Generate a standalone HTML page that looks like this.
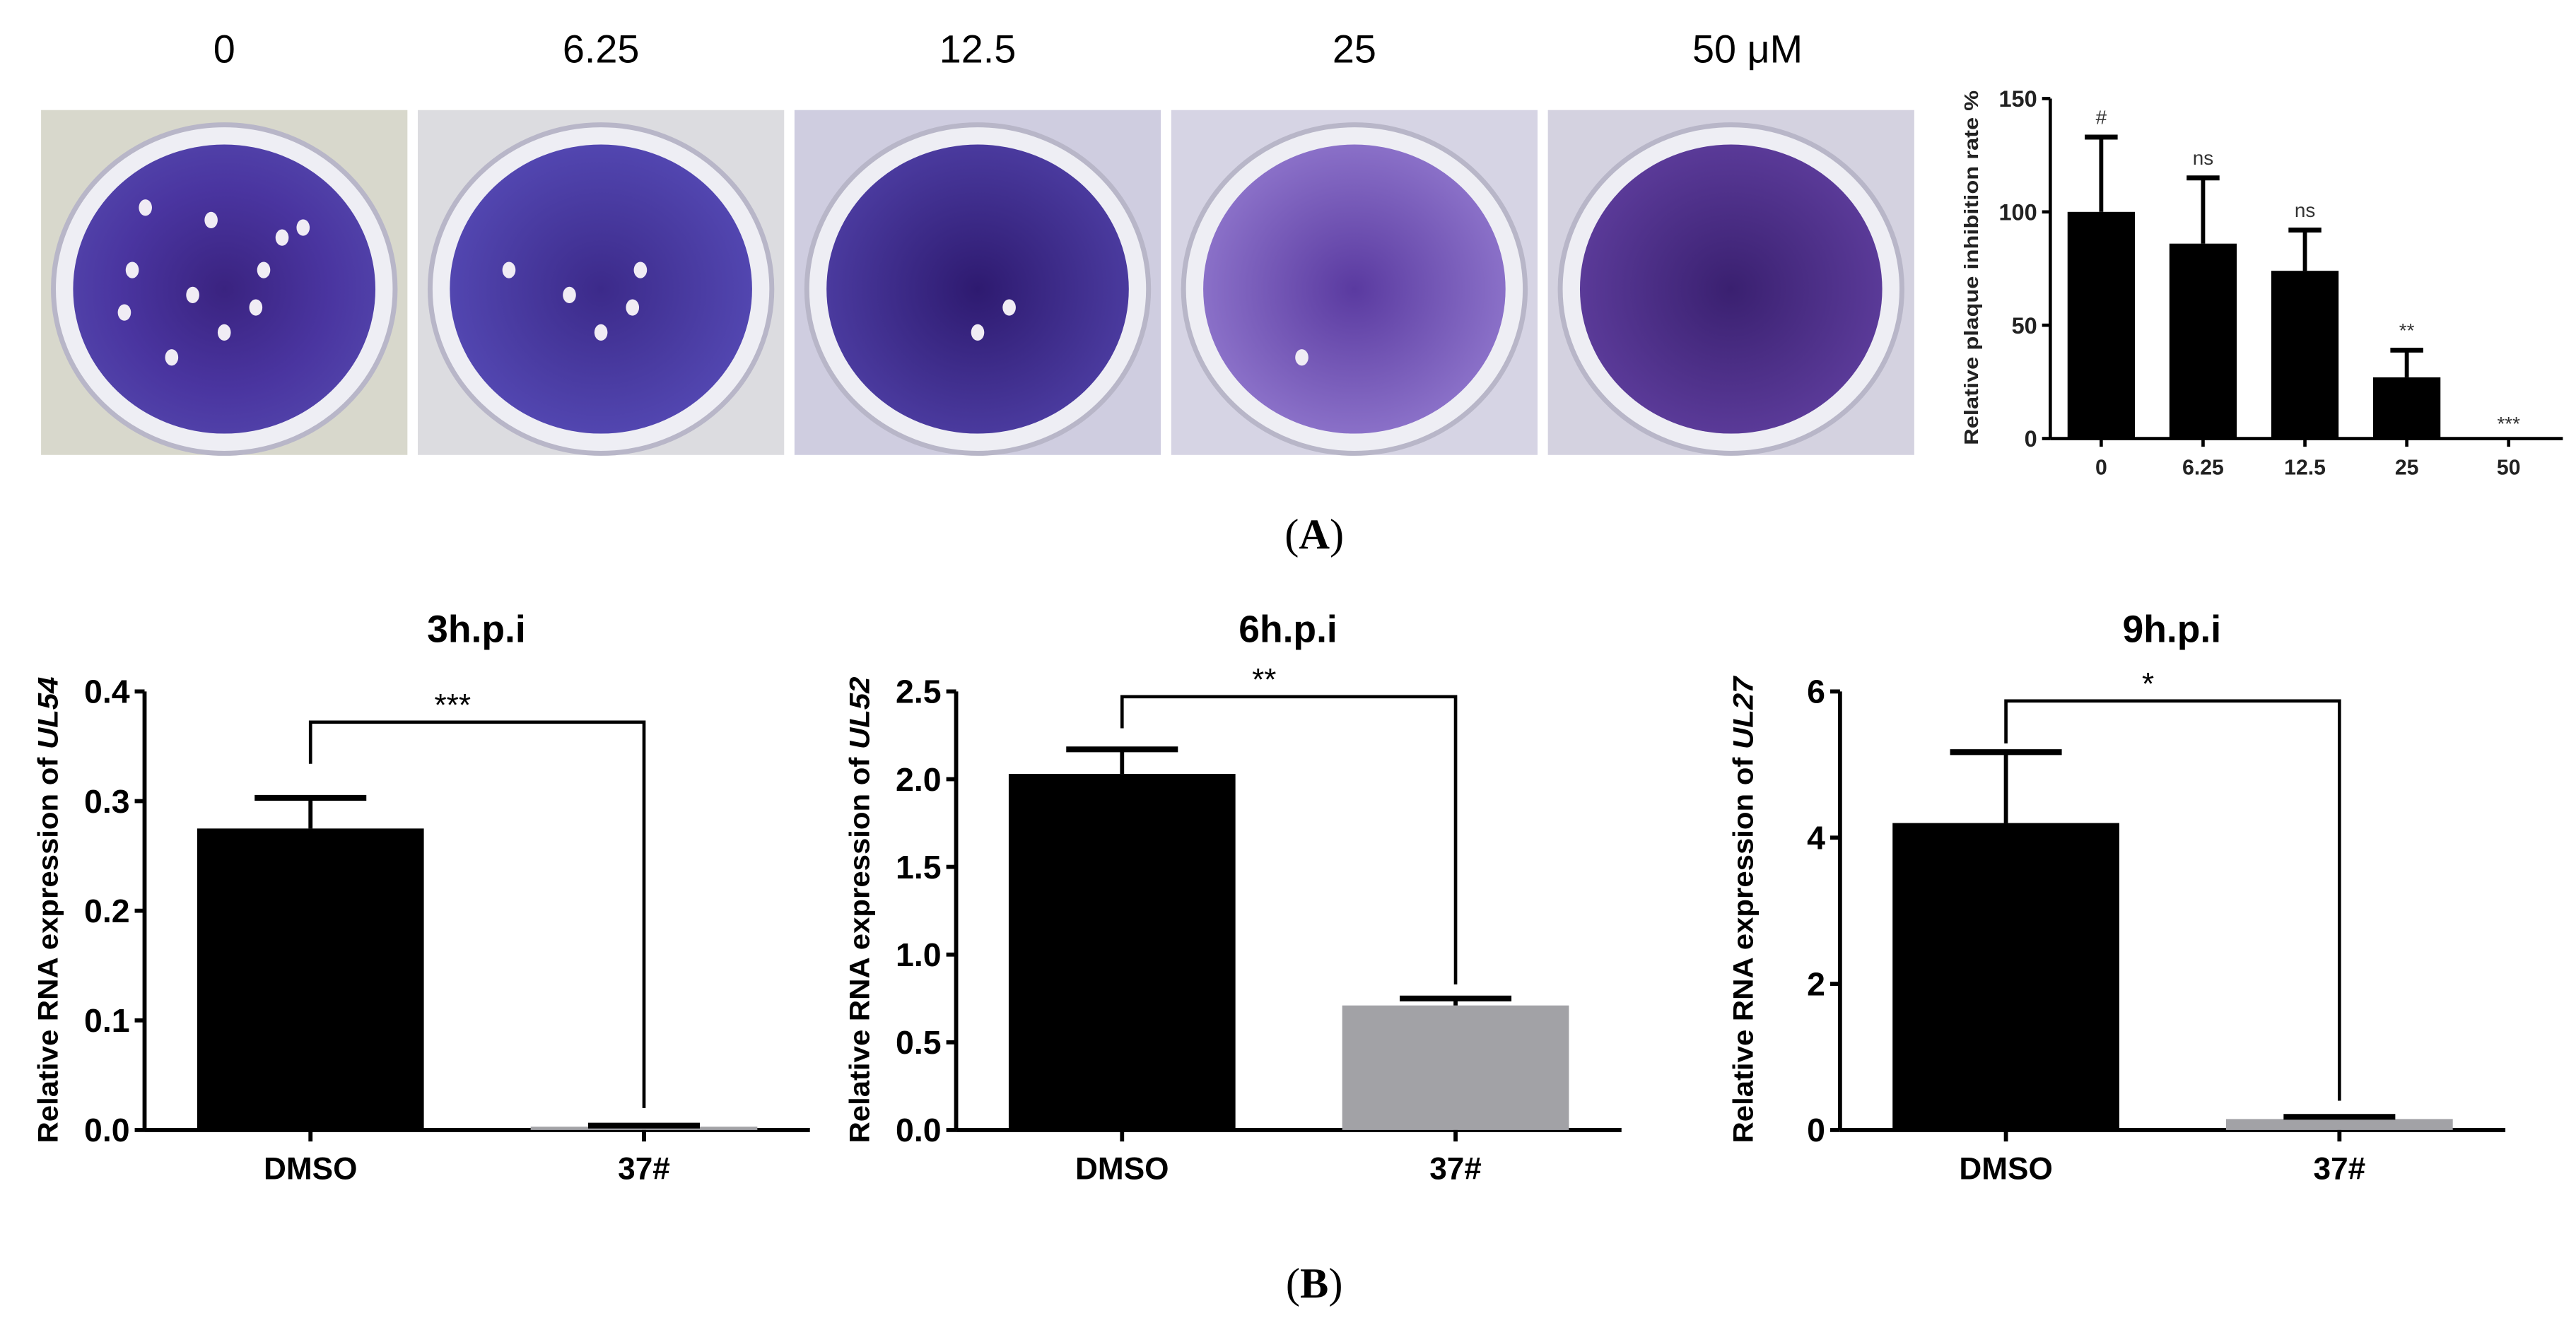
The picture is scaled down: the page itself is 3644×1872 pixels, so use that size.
<!DOCTYPE html>
<html><head><meta charset="utf-8"><style>
html,body{margin:0;padding:0;background:#fff}
svg{display:block;font-family:"Liberation Sans",Arial,sans-serif}
</style></head><body>
<svg id="fig" width="3644" height="1872" viewBox="0 0 1568 805.5" xmlns="http://www.w3.org/2000/svg">
<defs>
<radialGradient id="dish1" cx="0.5" cy="0.5" r="0.5"><stop offset="0" stop-color="#3a2380"/><stop offset="0.7" stop-color="#4a35a0"/><stop offset="1" stop-color="#5040a8"/></radialGradient>
<radialGradient id="dish2" cx="0.5" cy="0.5" r="0.5"><stop offset="0" stop-color="#3c2a8a"/><stop offset="1" stop-color="#5246b0"/></radialGradient>
<radialGradient id="dish3" cx="0.5" cy="0.5" r="0.5"><stop offset="0" stop-color="#2e1a70"/><stop offset="1" stop-color="#4a3a9e"/></radialGradient>
<radialGradient id="dish4" cx="0.5" cy="0.5" r="0.5"><stop offset="0" stop-color="#5a3aa0"/><stop offset="1" stop-color="#8a70c8"/></radialGradient>
<radialGradient id="dish5" cx="0.5" cy="0.5" r="0.5"><stop offset="0" stop-color="#3a2070"/><stop offset="1" stop-color="#5a3a98"/></radialGradient>
</defs>
<g id="photos"></g>
<g id="chartA"></g>
<text x="800" y="334" text-anchor="middle" font-family="Liberation Serif,serif" font-size="26">(<tspan font-weight="bold">A</tspan>)</text>
<g id="chartB1"></g>
<g id="chartB2"></g>
<g id="chartB3"></g>
<text x="800" y="790" text-anchor="middle" font-family="Liberation Serif,serif" font-size="26">(<tspan font-weight="bold">B</tspan>)</text>
</svg>
<script>
// ---- Panel A data ----
const concLabels = ["0", "6.25", "12.5", "25", "50"];
const photoTitles = ["0", "6.25", "12.5", "25", "50 μM"];
const inhibition = [100, 86, 74, 27, 0];
const inhibitionErr = [133, 115, 92, 39, 0];
const inhibitionSig = ["#", "ns", "ns", "**", "***"];
const aTicks = [0, 50, 100, 150];
const plaqueCounts = [11, 5, 2, 1, 0];
// ---- Panel B data ----
const groups = ["DMSO", "37#"];
const b1Values = [0.275, 0.003];
const b1Err = [0.303, 0.004];
const b1Ticks = ["0.0", "0.1", "0.2", "0.3", "0.4"];
const b1Bracket = [0.372, 0.334, 0.02];
const b2Values = [2.03, 0.71];
const b2Err = [2.17, 0.75];
const b2Ticks = ["0.0", "0.5", "1.0", "1.5", "2.0", "2.5"];
const b2Bracket = [2.47, 2.29, 0.83];
const b3Values = [4.2, 0.15];
const b3Err = [5.17, 0.18];
const b3Ticks = ["0", "2", "4", "6"];
const b3Bracket = [5.87, 5.29, 0.4];

const NS = "http://www.w3.org/2000/svg";
function mk(parent, tag, attrs, text) {
  const e = document.createElementNS(NS, tag);
  for (const k in attrs) e.setAttribute(k, attrs[k]);
  if (text !== undefined) e.textContent = text;
  parent.appendChild(e);
  return e;
}

// ---- photos ----
const photos = document.getElementById("photos");
const bgs = ["#d8d8cc", "#dcdce0", "#cfcde0", "#d6d4e4", "#d4d2e0"];
const spotPos = [[0.2,0.2],[0.45,0.25],[0.72,0.32],[0.65,0.45],[0.15,0.45],[0.38,0.55],[0.62,0.6],[0.5,0.7],[0.12,0.62],[0.3,0.8],[0.8,0.28]];
for (let i = 0; i < 5; i++) {
  const x0 = 25 + i * 229.3, y0 = 67, w = 223, h = 210;
  const g = mk(photos, "g", {});
  
  
  mk(g, "rect", {x: x0, y: y0, width: w, height: h, fill: bgs[i]});
  mk(g, "ellipse", {cx: x0 + w/2, cy: y0 + h/2 + 4, rx: 104, ry: 100, fill: "#eeeef4", stroke: "#b8b6c8", "stroke-width": 3});
  mk(g, "ellipse", {cx: x0 + w/2, cy: y0 + h/2 + 4, rx: 92, ry: 88, fill: "url(#dish" + (i+1) + ")"});
  for (let s = 0; s < plaqueCounts[i]; s++) {
    const p = spotPos[(s + i * 3) % spotPos.length];
    mk(g, "ellipse", {cx: x0 + w/2 - 80 + p[0]*160, cy: y0 + h/2 - 76 + p[1]*152, rx: 4, ry: 5, fill: "#f0ecf4"});
  }
  const t = mk(photos, "text", {x: x0 + w/2 + (i === 4 ? 10 : 0), y: 38, "text-anchor": "middle", "font-size": 24}, photoTitles[i]);
  
  
}

// ---- chart A ----
(function () {
  const g = document.getElementById("chartA");
  const ax = 1248, xEnd = 1560, y0 = 267, yTop = 60, vmax = 150;
  const yS = v => y0 - (v / vmax) * (y0 - yTop);
  const xS = i => 1279 + i * 62;
  const bw = 41;
  mk(g, "line", {x1: ax, y1: yTop, x2: ax, y2: y0, stroke: "#000", "stroke-width": 2});
  mk(g, "line", {x1: ax, y1: y0, x2: xEnd, y2: y0, stroke: "#000", "stroke-width": 2});
  aTicks.forEach(v => {
    mk(g, "line", {x1: ax - 5, y1: yS(v), x2: ax, y2: yS(v), stroke: "#000", "stroke-width": 2});
    const t = mk(g, "text", {x: ax - 8, y: yS(v) + 5, "text-anchor": "end", "font-size": 14, "font-weight": "bold", fill: "#222"}, v);
    
    
  });
  const yl = mk(g, "text", {x: 0, y: 0, transform: "translate(1204,163) rotate(-90)", "text-anchor": "middle", "font-size": 12, "font-weight": "bold", fill: "#222", textLength: 216, lengthAdjust: "spacingAndGlyphs"}, "Relative plaque inhibition rate %");
  
  
  concLabels.forEach((c, i) => {
    const cx = xS(i);
    const b = mk(g, "rect", {x: cx - bw/2, y: yS(inhibition[i]), width: bw, height: y0 - yS(inhibition[i]), fill: "#000"});
    
    
    if (inhibitionErr[i] > inhibition[i]) {
      mk(g, "line", {x1: cx, y1: yS(inhibition[i]), x2: cx, y2: yS(inhibitionErr[i]), stroke: "#000", "stroke-width": 2.5});
      mk(g, "line", {x1: cx - 10, y1: yS(inhibitionErr[i]), x2: cx + 10, y2: yS(inhibitionErr[i]), stroke: "#000", "stroke-width": 3});
    }
    mk(g, "line", {x1: cx, y1: y0, x2: cx, y2: y0 + 5, stroke: "#000", "stroke-width": 2});
    const lt = mk(g, "text", {x: cx, y: y0 + 22, "text-anchor": "middle", "font-size": 13, "font-weight": "bold", fill: "#222"}, c);
    
    
    const top = Math.max(inhibitionErr[i], inhibition[i]);
    const st = mk(g, "text", {x: cx, y: yS(top) - 8 + (i === 4 ? 3 : 0), "text-anchor": "middle", "font-size": 12, fill: "#333"}, inhibitionSig[i]);
    
    
  });
})();

// ---- panel B charts ----
function barChart(id, cfg) {
  const g = document.getElementById(id);
  const y0 = 688, yTop = 421;
  const vmax = parseFloat(cfg.ticks[cfg.ticks.length - 1]);
  const yS = v => y0 - (v / vmax) * (y0 - yTop);
  const xS = i => cfg.ax + 101 + i * 203;
  const xEnd = cfg.ax + 405;
  const bw = 138;
  const tt = mk(g, "text", {x: cfg.ax + 202, y: 391, "text-anchor": "middle", "font-size": 23, "font-weight": "bold"}, cfg.title);
  
  
  mk(g, "line", {x1: cfg.ax, y1: yTop, x2: cfg.ax, y2: y0, stroke: "#000", "stroke-width": 2.5});
  mk(g, "line", {x1: cfg.ax, y1: y0, x2: xEnd, y2: y0, stroke: "#000", "stroke-width": 2.5});
  cfg.ticks.forEach(tk => {
    const v = parseFloat(tk);
    mk(g, "line", {x1: cfg.ax - 6, y1: yS(v), x2: cfg.ax, y2: yS(v), stroke: "#000", "stroke-width": 2.5});
    const t = mk(g, "text", {x: cfg.ax - 9, y: yS(v) + 7, "text-anchor": "end", "font-size": 20, "font-weight": "bold"}, tk);
    
    
  });
  const yl = mk(g, "text", {x: 0, y: 0, transform: "translate(" + (cfg.ax - 53) + ",554) rotate(-90)", "text-anchor": "middle", "font-size": 17, "font-weight": "bold", textLength: 284, lengthAdjust: "spacingAndGlyphs"});
  
  
  mk(yl, "tspan", {}, "Relative  RNA expression of ");
  mk(yl, "tspan", {"font-style": "italic"}, cfg.gene);
  groups.forEach((gr, i) => {
    const cx = xS(i);
    const b = mk(g, "rect", {x: cx - bw/2, y: yS(cfg.values[i]), width: bw, height: Math.max(1.5, y0 - yS(cfg.values[i])), fill: i === 0 ? "#000" : "#a2a2a6"});
    
    
    mk(g, "line", {x1: cx, y1: yS(cfg.values[i]), x2: cx, y2: yS(cfg.err[i]), stroke: "#000", "stroke-width": 2.5});
    mk(g, "line", {x1: cx - 34, y1: yS(cfg.err[i]), x2: cx + 34, y2: yS(cfg.err[i]), stroke: "#000", "stroke-width": 3.5});
    mk(g, "line", {x1: cx, y1: y0, x2: cx, y2: y0 + 7, stroke: "#000", "stroke-width": 2.5});
    const lt = mk(g, "text", {x: cx, y: y0 + 30, "text-anchor": "middle", "font-size": 19, "font-weight": "bold"}, gr);
    
    
  });
  const by = yS(cfg.bracket[0]), x1 = xS(0), x2 = xS(1);
  const br = mk(g, "path", {d: "M" + x1 + "," + yS(cfg.bracket[1]) + " V" + by + " H" + x2 + " V" + yS(cfg.bracket[2]), fill: "none", stroke: "#000", "stroke-width": 2});
  
  
  const st = mk(g, "text", {x: (x1 + x2) / 2 - 15, y: by - 4, "text-anchor": "middle", "font-size": 19}, cfg.sig);
  
  
}
barChart("chartB1", {title: "3h.p.i", gene: "UL54", ticks: b1Ticks, values: b1Values, err: b1Err, bracket: b1Bracket, ax: 88, sig: "***"});
barChart("chartB2", {title: "6h.p.i", gene: "UL52", ticks: b2Ticks, values: b2Values, err: b2Err, bracket: b2Bracket, ax: 582, sig: "**"});
barChart("chartB3", {title: "9h.p.i", gene: "UL27", ticks: b3Ticks, values: b3Values, err: b3Err, bracket: b3Bracket, ax: 1120, sig: "*"});
</script>
</body></html>
